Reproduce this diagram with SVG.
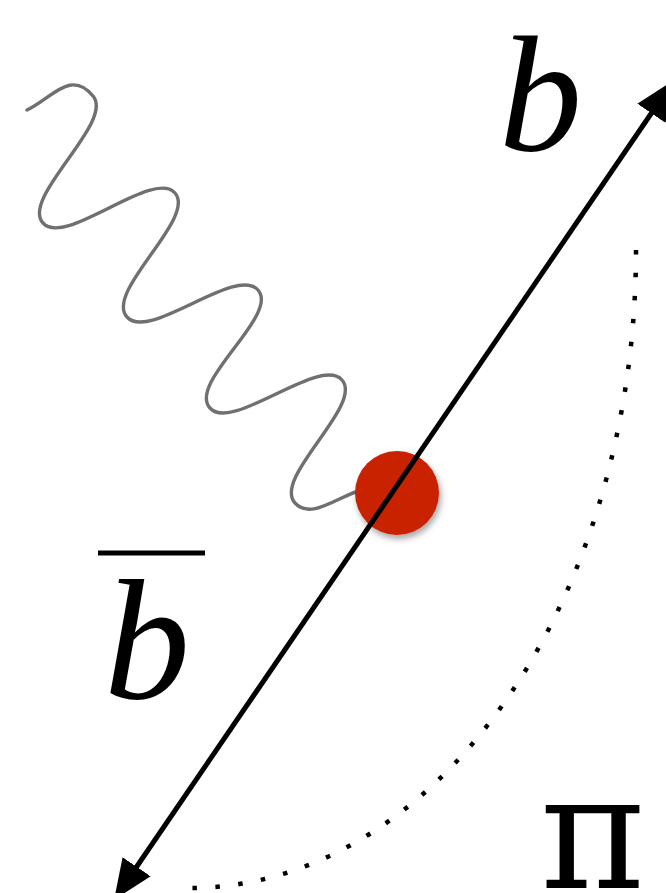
<svg xmlns="http://www.w3.org/2000/svg" width="666" height="893" viewBox="0 0 666 893">
<style>
.lbl{font-family:"Liberation Serif","Times New Roman",serif;fill:#000}
.it{font-style:italic}
.pi{font-family:"DejaVu Serif","Liberation Serif",serif;fill:#000}
.wave{fill:none;stroke:#707070;stroke-width:3.4;stroke-linecap:round}
.axis{stroke:#000;stroke-width:5;fill:none}
.arc{fill:none;stroke:#000;stroke-width:4.5;stroke-dasharray:4.5 18.5}
</style>
<defs>
<marker id="ah" markerUnits="userSpaceOnUse" markerWidth="42" markerHeight="34" refX="10" refY="17" orient="auto-start-reverse">
<path d="M0,0 L40,17 L0,34 z" fill="#000"/>
</marker>
<filter id="sh" x="-30%" y="-30%" width="160%" height="160%">
<feDropShadow dx="2" dy="4" stdDeviation="3" flood-color="#000" flood-opacity="0.35"/>
</filter>
</defs>
<rect width="666" height="893" fill="#fff"/>
<g id="photon">
<path class="wave" d="M27,110 C52,98 71,69 93,96 C115,122 20,198 43,223 C65,248 153,168 175,193 C197,218 104,292 127,317 C149,342 236,265 258,290 C280,315 187,383 210,408 C232,433 320,355 342,380 C364,405 272,478 295,503 C311,521 340,495 362,490"/>
</g>
<g id="vertex">
<circle cx="397" cy="493" r="42" fill="#c82200" filter="url(#sh)"/>
</g>
<g id="connectors">
<path class="axis" d="M131,875 L657,105" marker-start="url(#ah)" marker-end="url(#ah)"/>
<path class="arc" d="M636,250 A446,638 0 0 1 190,888"/>
</g>
<g id="label-b">
<text class="lbl it" x="499" y="150" font-size="166">b</text>
</g>
<g id="label-bbar">
<line x1="98" y1="553" x2="205" y2="553" stroke="#000" stroke-width="5"/>
<text class="lbl it" x="104" y="698" font-size="172">b</text>
</g>
<g id="label-pi">
<text class="pi" x="540" y="888" font-size="160">π</text>
</g>
</svg>
